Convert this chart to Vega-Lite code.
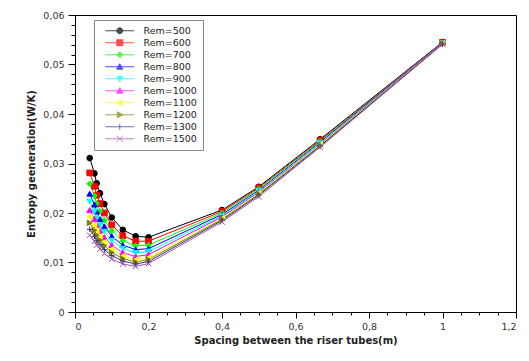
{
  "$schema": "https://vega.github.io/schema/vega-lite/v6.json",
  "width": 441,
  "height": 297,
  "autosize": "none",
  "padding": {"left": 75, "top": 15, "right": 13, "bottom": 49},
  "background": "white",
  "config": {
    "font": "DejaVu Sans",
    "view": {"stroke": "#000", "strokeWidth": 1},
    "axis": {"labelFontSize": 9.5, "labelColor": "#333", "titleFontSize": 10, "titleFontWeight": "bold", "titleColor": "#222", "domainColor": "#000", "tickColor": "#000", "grid": false}
  },
  "data": {"values": [
    {"series":"Rem=500","spacing":0.04,"entropy":0.0311},{"series":"Rem=500","spacing":0.053,"entropy":0.0280},{"series":"Rem=500","spacing":0.059,"entropy":0.0260},{"series":"Rem=500","spacing":0.068,"entropy":0.0240},{"series":"Rem=500","spacing":0.08,"entropy":0.0218},{"series":"Rem=500","spacing":0.1,"entropy":0.0191},{"series":"Rem=500","spacing":0.13,"entropy":0.0166},{"series":"Rem=500","spacing":0.165,"entropy":0.0153},{"series":"Rem=500","spacing":0.2,"entropy":0.0151},{"series":"Rem=500","spacing":0.4,"entropy":0.0206},{"series":"Rem=500","spacing":0.5,"entropy":0.0253},{"series":"Rem=500","spacing":0.667,"entropy":0.0349},{"series":"Rem=500","spacing":1.0,"entropy":0.0545},
    {"series":"Rem=600","spacing":0.04,"entropy":0.0281},{"series":"Rem=600","spacing":0.053,"entropy":0.0254},{"series":"Rem=600","spacing":0.059,"entropy":0.0236},{"series":"Rem=600","spacing":0.068,"entropy":0.0219},{"series":"Rem=600","spacing":0.08,"entropy":0.0200},{"series":"Rem=600","spacing":0.1,"entropy":0.0176},{"series":"Rem=600","spacing":0.13,"entropy":0.0154},{"series":"Rem=600","spacing":0.165,"entropy":0.0143},{"series":"Rem=600","spacing":0.2,"entropy":0.0143},{"series":"Rem=600","spacing":0.4,"entropy":0.0203},{"series":"Rem=600","spacing":0.5,"entropy":0.0251},{"series":"Rem=600","spacing":0.667,"entropy":0.0347},{"series":"Rem=600","spacing":1.0,"entropy":0.0545},
    {"series":"Rem=700","spacing":0.04,"entropy":0.0259},{"series":"Rem=700","spacing":0.053,"entropy":0.0235},{"series":"Rem=700","spacing":0.059,"entropy":0.0219},{"series":"Rem=700","spacing":0.068,"entropy":0.0203},{"series":"Rem=700","spacing":0.08,"entropy":0.0185},{"series":"Rem=700","spacing":0.1,"entropy":0.0164},{"series":"Rem=700","spacing":0.13,"entropy":0.0144},{"series":"Rem=700","spacing":0.165,"entropy":0.0134},{"series":"Rem=700","spacing":0.2,"entropy":0.0135},{"series":"Rem=700","spacing":0.4,"entropy":0.0200},{"series":"Rem=700","spacing":0.5,"entropy":0.0249},{"series":"Rem=700","spacing":0.667,"entropy":0.0345},{"series":"Rem=700","spacing":1.0,"entropy":0.0544},
    {"series":"Rem=800","spacing":0.04,"entropy":0.0239},{"series":"Rem=800","spacing":0.053,"entropy":0.0217},{"series":"Rem=800","spacing":0.059,"entropy":0.0203},{"series":"Rem=800","spacing":0.068,"entropy":0.0188},{"series":"Rem=800","spacing":0.08,"entropy":0.0173},{"series":"Rem=800","spacing":0.1,"entropy":0.0153},{"series":"Rem=800","spacing":0.13,"entropy":0.0135},{"series":"Rem=800","spacing":0.165,"entropy":0.0126},{"series":"Rem=800","spacing":0.2,"entropy":0.0128},{"series":"Rem=800","spacing":0.4,"entropy":0.0197},{"series":"Rem=800","spacing":0.5,"entropy":0.0246},{"series":"Rem=800","spacing":0.667,"entropy":0.0343},{"series":"Rem=800","spacing":1.0,"entropy":0.0544},
    {"series":"Rem=900","spacing":0.04,"entropy":0.0223},{"series":"Rem=900","spacing":0.053,"entropy":0.0203},{"series":"Rem=900","spacing":0.059,"entropy":0.0189},{"series":"Rem=900","spacing":0.068,"entropy":0.0176},{"series":"Rem=900","spacing":0.08,"entropy":0.0162},{"series":"Rem=900","spacing":0.1,"entropy":0.0144},{"series":"Rem=900","spacing":0.13,"entropy":0.0128},{"series":"Rem=900","spacing":0.165,"entropy":0.0119},{"series":"Rem=900","spacing":0.2,"entropy":0.0122},{"series":"Rem=900","spacing":0.4,"entropy":0.0194},{"series":"Rem=900","spacing":0.5,"entropy":0.0244},{"series":"Rem=900","spacing":0.667,"entropy":0.0341},{"series":"Rem=900","spacing":1.0,"entropy":0.0543},
    {"series":"Rem=1000","spacing":0.04,"entropy":0.0206},{"series":"Rem=1000","spacing":0.053,"entropy":0.0188},{"series":"Rem=1000","spacing":0.059,"entropy":0.0176},{"series":"Rem=1000","spacing":0.068,"entropy":0.0164},{"series":"Rem=1000","spacing":0.08,"entropy":0.0151},{"series":"Rem=1000","spacing":0.1,"entropy":0.0135},{"series":"Rem=1000","spacing":0.13,"entropy":0.0120},{"series":"Rem=1000","spacing":0.165,"entropy":0.0112},{"series":"Rem=1000","spacing":0.2,"entropy":0.0116},{"series":"Rem=1000","spacing":0.4,"entropy":0.0192},{"series":"Rem=1000","spacing":0.5,"entropy":0.0242},{"series":"Rem=1000","spacing":0.667,"entropy":0.0339},{"series":"Rem=1000","spacing":1.0,"entropy":0.0543},
    {"series":"Rem=1100","spacing":0.04,"entropy":0.0192},{"series":"Rem=1100","spacing":0.053,"entropy":0.0175},{"series":"Rem=1100","spacing":0.059,"entropy":0.0164},{"series":"Rem=1100","spacing":0.068,"entropy":0.0153},{"series":"Rem=1100","spacing":0.08,"entropy":0.0141},{"series":"Rem=1100","spacing":0.1,"entropy":0.0127},{"series":"Rem=1100","spacing":0.13,"entropy":0.0113},{"series":"Rem=1100","spacing":0.165,"entropy":0.0106},{"series":"Rem=1100","spacing":0.2,"entropy":0.0110},{"series":"Rem=1100","spacing":0.4,"entropy":0.0189},{"series":"Rem=1100","spacing":0.5,"entropy":0.0240},{"series":"Rem=1100","spacing":0.667,"entropy":0.0338},{"series":"Rem=1100","spacing":1.0,"entropy":0.0542},
    {"series":"Rem=1200","spacing":0.04,"entropy":0.0180},{"series":"Rem=1200","spacing":0.053,"entropy":0.0165},{"series":"Rem=1200","spacing":0.059,"entropy":0.0155},{"series":"Rem=1200","spacing":0.068,"entropy":0.0145},{"series":"Rem=1200","spacing":0.08,"entropy":0.0134},{"series":"Rem=1200","spacing":0.1,"entropy":0.0120},{"series":"Rem=1200","spacing":0.13,"entropy":0.0108},{"series":"Rem=1200","spacing":0.165,"entropy":0.0101},{"series":"Rem=1200","spacing":0.2,"entropy":0.0106},{"series":"Rem=1200","spacing":0.4,"entropy":0.0187},{"series":"Rem=1200","spacing":0.5,"entropy":0.0238},{"series":"Rem=1200","spacing":0.667,"entropy":0.0336},{"series":"Rem=1200","spacing":1.0,"entropy":0.0542},
    {"series":"Rem=1300","spacing":0.04,"entropy":0.0167},{"series":"Rem=1300","spacing":0.053,"entropy":0.0153},{"series":"Rem=1300","spacing":0.059,"entropy":0.0144},{"series":"Rem=1300","spacing":0.068,"entropy":0.0136},{"series":"Rem=1300","spacing":0.08,"entropy":0.0126},{"series":"Rem=1300","spacing":0.1,"entropy":0.0114},{"series":"Rem=1300","spacing":0.13,"entropy":0.0103},{"series":"Rem=1300","spacing":0.165,"entropy":0.0097},{"series":"Rem=1300","spacing":0.2,"entropy":0.0102},{"series":"Rem=1300","spacing":0.4,"entropy":0.0185},{"series":"Rem=1300","spacing":0.5,"entropy":0.0236},{"series":"Rem=1300","spacing":0.667,"entropy":0.0335},{"series":"Rem=1300","spacing":1.0,"entropy":0.0541},
    {"series":"Rem=1500","spacing":0.04,"entropy":0.0155},{"series":"Rem=1500","spacing":0.053,"entropy":0.0143},{"series":"Rem=1500","spacing":0.059,"entropy":0.0135},{"series":"Rem=1500","spacing":0.068,"entropy":0.0127},{"series":"Rem=1500","spacing":0.08,"entropy":0.0118},{"series":"Rem=1500","spacing":0.1,"entropy":0.0107},{"series":"Rem=1500","spacing":0.13,"entropy":0.0097},{"series":"Rem=1500","spacing":0.165,"entropy":0.0092},{"series":"Rem=1500","spacing":0.2,"entropy":0.0098},{"series":"Rem=1500","spacing":0.4,"entropy":0.0182},{"series":"Rem=1500","spacing":0.5,"entropy":0.0233},{"series":"Rem=1500","spacing":0.667,"entropy":0.0333},{"series":"Rem=1500","spacing":1.0,"entropy":0.0541}
  ]},
  "resolve": {
    "scale": {"color": "independent", "stroke": "independent", "shape": "independent"},
    "axis": {"x": "independent", "y": "independent"}
  },
  "layer": [
    {
      "mark": {"type": "line", "strokeWidth": 1},
      "encoding": {
        "x": {"field": "spacing", "type": "quantitative", "scale": {"domain": [0, 1.2], "nice": false},
              "axis": {"orient": "bottom", "values": [0, 0.2, 0.4, 0.6, 0.8, 1.0, 1.2], "tickSize": 6, "labelPadding": 3, "labelExpr": "replace(format(datum.value, '.1~f'), '.', ',')", "title": "Spacing between the riser tubes(m)", "titlePadding": 5}},
        "y": {"field": "entropy", "type": "quantitative", "scale": {"domain": [0, 0.06], "nice": false},
              "axis": {"orient": "left", "values": [0, 0.01, 0.02, 0.03, 0.04, 0.05, 0.06], "tickSize": 7, "labelPadding": 4, "labelExpr": "replace(format(datum.value, '.2~f'), '.', ',')", "title": "Entropy geeneration(W/K)", "titlePadding": 6}},
        "color": {"field": "series", "type": "nominal", "legend": null,
                  "scale": {"domain": ["Rem=500","Rem=600","Rem=700","Rem=800","Rem=900","Rem=1000","Rem=1100","Rem=1200","Rem=1300","Rem=1500"],
                            "range": ["#000000","#ff0000","#00ff00","#0000ff","#00ffff","#ff00ff","#ffff00","#808000","#33338a","#a050a8"]}}
      }
    },
    {
      "mark": {"type": "point", "filled": true, "size": 32, "strokeWidth": 1, "opacity": 1},
      "encoding": {
        "x": {"field": "spacing", "type": "quantitative",
              "axis": {"orient": "bottom", "values": [0.05,0.1,0.15,0.25,0.3,0.35,0.45,0.5,0.55,0.65,0.7,0.75,0.85,0.9,0.95,1.05,1.1,1.15], "tickSize": 3, "labels": false, "domain": false, "title": null}},
        "y": {"field": "entropy", "type": "quantitative",
              "axis": {"orient": "left", "values": [0.002,0.004,0.006,0.008,0.012,0.014,0.016,0.018,0.022,0.024,0.026,0.028,0.032,0.034,0.036,0.038,0.042,0.044,0.046,0.048,0.052,0.054,0.056,0.058], "tickSize": 4, "labels": false, "domain": false, "title": null}},
        "color": {"field": "series", "type": "nominal", "legend": null,
                  "scale": {"domain": ["Rem=500","Rem=600","Rem=700","Rem=800","Rem=900","Rem=1000","Rem=1100","Rem=1200","Rem=1300","Rem=1500"],
                            "range": ["#000000","#ff0000","#00ff00","#0000ff","#00ffff","#ff00ff","#ffff00","#808000","#33338a","#a050a8"]}},
        "stroke": {"field": "series", "type": "nominal", "legend": null,
                  "scale": {"domain": ["Rem=500","Rem=600","Rem=700","Rem=800","Rem=900","Rem=1000","Rem=1100","Rem=1200","Rem=1300","Rem=1500"],
                            "range": ["#000000","#ff0000","#00ff00","#0000ff","#00ffff","#ff00ff","#ffff00","#808000","#33338a","#a050a8"]}},
        "shape": {"field": "series", "type": "nominal", "legend": null,
                  "scale": {"domain": ["Rem=500","Rem=600","Rem=700","Rem=800","Rem=900","Rem=1000","Rem=1100","Rem=1200","Rem=1300","Rem=1500"],
                            "range": ["circle","square","diamond","triangle-up","triangle-down","triangle-up","triangle-left","triangle-right","M-1,0L1,0M0,-1L0,1","M-1,-1L1,1M1,-1L-1,1"]}}
      }
    },
    {
      "transform": [{"filter": "false"}],
      "mark": {"type": "point", "filled": true, "size": 36, "strokeWidth": 1},
      "encoding": {
        "color": {"field": "series", "type": "nominal",
                  "scale": {"domain": ["Rem=500","Rem=600","Rem=700","Rem=800","Rem=900","Rem=1000","Rem=1100","Rem=1200","Rem=1300","Rem=1500"],
                            "range": ["#000000","#ff0000","#00ff00","#0000ff","#00ffff","#ff00ff","#ffff00","#808000","#33338a","#a050a8"]},
                  "legend": {"title": null, "orient": "none", "legendX": 19, "legendY": 5, "padding": 6, "strokeColor": "#888", "fillColor": "white", "symbolOffset": 15, "labelOffset": 19, "symbolSize": 36, "symbolStrokeWidth": 1, "labelFontSize": 9.5, "labelColor": "#222", "rowPadding": 1}},
        "stroke": {"field": "series", "type": "nominal",
                  "scale": {"domain": ["Rem=500","Rem=600","Rem=700","Rem=800","Rem=900","Rem=1000","Rem=1100","Rem=1200","Rem=1300","Rem=1500"],
                            "range": ["#000000","#ff0000","#00ff00","#0000ff","#00ffff","#ff00ff","#ffff00","#808000","#33338a","#a050a8"]},
                  "legend": {"title": null, "orient": "none", "legendX": 19, "legendY": 5, "padding": 6, "strokeColor": "#888", "fillColor": "white", "symbolOffset": 15, "labelOffset": 19, "symbolSize": 36, "symbolStrokeWidth": 1, "labelFontSize": 9.5, "labelColor": "#222", "rowPadding": 1}},
        "shape": {"field": "series", "type": "nominal",
                  "scale": {"domain": ["Rem=500","Rem=600","Rem=700","Rem=800","Rem=900","Rem=1000","Rem=1100","Rem=1200","Rem=1300","Rem=1500"],
                            "range": ["M-4.8,0L4.8,0M1,0A1,1,0,1,1,-1,0A1,1,0,1,1,1,0Z","M-4.8,0L4.8,0M-1,-1L1,-1L1,1L-1,1Z","M-4.8,0L4.8,0M0,-1L1,0L0,1L-1,0Z","M-4.8,0L4.8,0M0,-1L1,0.8L-1,0.8Z","M-4.8,0L4.8,0M0,1L1,-0.8L-1,-0.8Z","M-4.8,0L4.8,0M0,-1L1,0.8L-1,0.8Z","M-4.8,0L4.8,0M-1,0L0.8,-1L0.8,1Z","M-4.8,0L4.8,0M1,0L-0.8,-1L-0.8,1Z","M-4.8,0L4.8,0M0,-1L0,1","M-4.8,0L4.8,0M-1,-1L1,1M1,-1L-1,1"]},
                  "legend": {"title": null, "orient": "none", "legendX": 19, "legendY": 5, "padding": 6, "strokeColor": "#888", "fillColor": "white", "symbolOffset": 15, "labelOffset": 19, "symbolSize": 36, "symbolStrokeWidth": 1, "labelFontSize": 9.5, "labelColor": "#222", "rowPadding": 1}}
      }
    }
  ]
}
